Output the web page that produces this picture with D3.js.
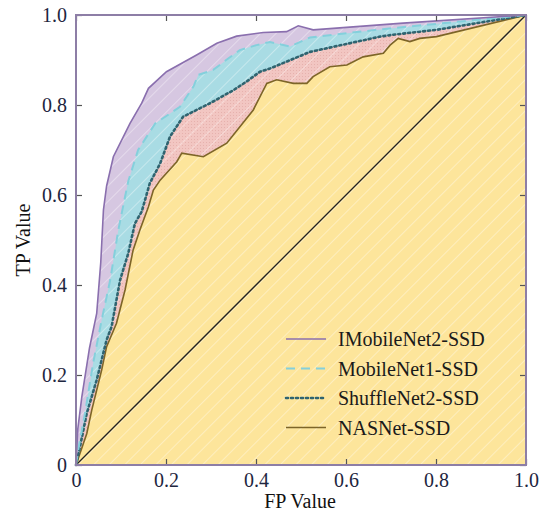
<!DOCTYPE html>
<html>
<head>
<meta charset="utf-8">
<script src="https://cdn.jsdelivr.net/npm/d3@7"></script>
<style>
  body { margin: 0; background: #fff; }
  text { font-family: "Liberation Serif", "Times New Roman", serif; }
</style>
</head>
<body>
<div id="chart"></div>
<script>
// ROC points (FP rate, TP rate)
var imob_fp = [0, 0.004, 0.013, 0.03, 0.046, 0.055, 0.061, 0.068, 0.083, 0.12, 0.146, 0.161, 0.201, 0.268, 0.313, 0.357, 0.416, 0.468, 0.494, 0.527, 0.727, 1.0];
var imob_tp = [0, 0.08, 0.152, 0.26, 0.337, 0.45, 0.567, 0.62, 0.685, 0.759, 0.804, 0.837, 0.874, 0.911, 0.937, 0.953, 0.961, 0.963, 0.976, 0.967, 0.982, 1.0];

var mob1_fp = [0, 0.006, 0.02, 0.038, 0.057, 0.076, 0.094, 0.109, 0.116, 0.138, 0.176, 0.209, 0.231, 0.261, 0.272, 0.305, 0.339, 0.364, 0.401, 0.431, 0.476, 0.52, 0.676, 1.0];
var mob1_tp = [0, 0.04, 0.115, 0.226, 0.322, 0.411, 0.522, 0.596, 0.63, 0.7, 0.759, 0.781, 0.796, 0.841, 0.867, 0.878, 0.904, 0.922, 0.933, 0.94, 0.93, 0.95, 0.968, 1.0];

var shuf_fp = [0, 0.009, 0.024, 0.046, 0.068, 0.079, 0.098, 0.116, 0.131, 0.146, 0.164, 0.187, 0.209, 0.238, 0.298, 0.35, 0.379, 0.409, 0.431, 0.52, 0.676, 0.704, 0.801, 1.0];
var shuf_tp = [0, 0.041, 0.115, 0.189, 0.278, 0.307, 0.411, 0.47, 0.537, 0.563, 0.626, 0.67, 0.73, 0.774, 0.804, 0.833, 0.852, 0.874, 0.881, 0.918, 0.952, 0.956, 0.967, 1.0];

var nas_fp = [0, 0.024, 0.035, 0.057, 0.068, 0.09, 0.109, 0.127, 0.142, 0.161, 0.172, 0.187, 0.224, 0.235, 0.283, 0.335, 0.394, 0.424, 0.446, 0.483, 0.513, 0.527, 0.564, 0.602, 0.638, 0.683, 0.698, 0.716, 0.742, 0.764, 0.801, 1.0];
var nas_tp = [0, 0.07, 0.122, 0.211, 0.263, 0.315, 0.389, 0.478, 0.522, 0.574, 0.611, 0.633, 0.674, 0.693, 0.685, 0.715, 0.789, 0.848, 0.856, 0.848, 0.848, 0.863, 0.885, 0.889, 0.907, 0.915, 0.933, 0.948, 0.941, 0.948, 0.952, 1.0];

var model_names = ["IMobileNet2-SSD", "MobileNet1-SSD", "ShuffleNet2-SSD", "NASNet-SSD"];
var tick_vals = [0, 0.2, 0.4, 0.6, 0.8, 1.0];

var svg = d3.select("#chart").append("svg")
  .attr("width", 541)
  .attr("height", 513);

var margin = {top: 15, left: 76},
    w = 450, h = 450;

var x = d3.scaleLinear().domain([0, 1]).range([0, w]);
var y = d3.scaleLinear().domain([0, 1]).range([h, 0]);

var defs = svg.append("defs");
// faint white diagonal hatching laid over every filled area
var hatch = defs.append("pattern")
  .attr("id", "hatch")
  .attr("patternUnits", "userSpaceOnUse")
  .attr("width", 11).attr("height", 11)
  .attr("patternTransform", "rotate(45)");
hatch.append("line")
  .attr("x1", 0).attr("y1", 0).attr("x2", 0).attr("y2", 11)
  .attr("stroke", "#fff").attr("stroke-width", 1.6).attr("stroke-opacity", 0.45);
// pink area gets little dots
var dots = defs.append("pattern")
  .attr("id", "dots")
  .attr("patternUnits", "userSpaceOnUse")
  .attr("width", 3).attr("height", 3);
dots.append("rect").attr("width", 3).attr("height", 3).attr("fill", "#f2c6c2");
dots.append("circle").attr("cx", 1.5).attr("cy", 1.5).attr("r", 0.5).attr("fill", "#e2aaa7");

var g = svg.append("g").attr("transform", "translate(" + margin.left + "," + margin.top + ")");

var series = [
  {name: model_names[0], fp: imob_fp, tp: imob_tp, fill: "#d6c7e1", stroke: "#8a6fae", dash: null, width: 1.6},
  {name: model_names[1], fp: mob1_fp, tp: mob1_tp, fill: "#a9dce4", stroke: "#84d0dc", dash: "9,6", width: 2},
  {name: model_names[2], fp: shuf_fp, tp: shuf_tp, fill: "url(#dots)", stroke: "#2f6470", dash: "2,3", width: 2.6},
  {name: model_names[3], fp: nas_fp, tp: nas_tp, fill: "#fde59b", stroke: "#7d6528", dash: null, width: 1.6}
];
series.forEach(function(s) {
  s.pts = s.fp.map(function(v, i) { return [v, s.tp[i]]; });
});

var area = d3.area()
  .x(function(d) { return x(d[0]); })
  .y0(y(0))
  .y1(function(d) { return y(d[1]); });
var line = d3.line()
  .x(function(d) { return x(d[0]); })
  .y(function(d) { return y(d[1]); });

// areas, outer curve first
g.selectAll(".roc-area")
  .data(series)
  .enter()
  .append("path")
    .attr("class", "roc-area")
    .attr("d", function(d) { return area(d.pts); })
    .attr("fill", function(d) { return d.fill; });

g.append("path")
  .attr("d", area(series[0].pts))
  .attr("fill", "url(#hatch)");

// chance line
g.append("line")
  .attr("x1", x(0)).attr("y1", y(0))
  .attr("x2", x(1)).attr("y2", y(1))
  .attr("stroke", "#222")
  .attr("stroke-width", 1.3);

// curves
g.selectAll(".roc-line")
  .data(series.slice().reverse())
  .enter()
  .append("path")
    .attr("class", "roc-line")
    .attr("d", function(d) { return line(d.pts); })
    .attr("fill", "none")
    .attr("stroke", function(d) { return d.stroke; })
    .attr("stroke-width", function(d) { return d.width; })
    .attr("stroke-dasharray", function(d) { return d.dash; })
    .attr("stroke-linecap", function(d) { return d.dash === "2,3" ? "round" : "butt"; });

// axes, ticks pointing inward
var fmt = function(d) { return d === 0 ? "0" : d3.format(".1f")(d); };
var styleAxis = function(sel) {
  sel.select(".domain").remove();
  sel.selectAll(".tick line").attr("stroke", "#555").attr("stroke-width", 1.2);
  sel.selectAll(".tick text")
    .attr("fill", "#1e2640")
    .style("font-size", "20px");
};
g.append("g")
  .attr("transform", "translate(0," + h + ")")
  .call(d3.axisBottom(x).tickValues(tick_vals).tickFormat(fmt).tickSize(-6).tickPadding(8))
  .call(styleAxis);
g.append("g")
  .call(d3.axisLeft(y).tickValues(tick_vals).tickFormat(fmt).tickSize(-6).tickPadding(9))
  .call(styleAxis);
g.append("g")
  .call(d3.axisTop(x).tickValues(tick_vals).tickFormat("").tickSize(-6))
  .call(styleAxis);
g.append("g")
  .attr("transform", "translate(" + w + ",0)")
  .call(d3.axisRight(y).tickValues(tick_vals).tickFormat("").tickSize(-6))
  .call(styleAxis);

// frame
g.append("rect")
  .attr("width", w).attr("height", h)
  .attr("fill", "none")
  .attr("stroke", "#8d7ea6")
  .attr("stroke-width", 2);

// axis titles
svg.append("text")
  .attr("x", 300)
  .attr("y", 508)
  .attr("text-anchor", "middle")
  .style("font-size", "20px")
  .attr("fill", "#111")
  .text("FP Value");
svg.append("text")
  .attr("transform", "translate(30," + 240 + ")rotate(-90)")
  .attr("text-anchor", "middle")
  .style("font-size", "20px")
  .attr("fill", "#111")
  .text("TP Value");

// legend
var legend = g.append("g").attr("transform", "translate(210,324)");
var rows = legend.selectAll(".leg")
  .data(series)
  .enter()
  .append("g")
    .attr("class", "leg")
    .attr("transform", function(d, i) { return "translate(0," + (i * 29.5) + ")"; });
rows.append("line")
  .attr("x1", 0).attr("x2", 40)
  .attr("stroke", function(d) { return d.stroke; })
  .attr("stroke-width", function(d) { return d.width; })
  .attr("stroke-dasharray", function(d) { return d.dash; })
  .attr("stroke-linecap", function(d) { return d.dash === "2,3" ? "round" : "butt"; });
rows.append("text")
  .attr("x", 52)
  .attr("y", 7)
  .style("font-size", "20px")
  .attr("fill", "#1a1a1a")
  .text(function(d) { return d.name; });
</script>
</body>
</html>
